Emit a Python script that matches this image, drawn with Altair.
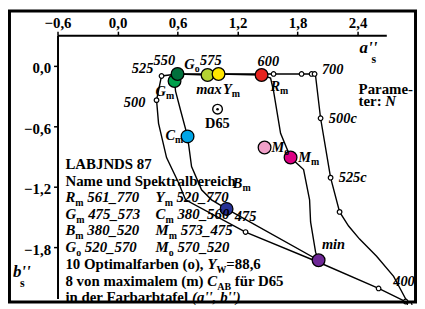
import altair as alt
import pandas as pd

# ---------------- data ----------------
# optimal colour loop (o), closed
opt_a = [2.90, 2.61, 2.01, 1.28, 0.68, 0.61, 0.49, 0.41, 0.39, 0.44, 0.60, 0.99, 1.44,
         1.56, 1.84, 1.96, 1.98, 2.03, 2.13, 2.22, 2.31, 2.42, 2.59, 2.76, 2.90]
opt_b = [-2.35, -2.21, -1.95, -1.65, -1.33, -1.16, -0.91, -0.57, -0.34, -0.10, -0.08, -0.08, -0.08,
         -0.08, -0.08, -0.08, -0.10, -0.52, -1.11, -1.45, -1.59, -1.72, -1.89, -2.09, -2.35]
# maximal chroma loop (m), closed
max_a = [0.57, 0.60, 0.90, 1.01, 1.44, 1.53, 1.56, 1.63, 1.73, 1.86, 1.92, 1.93, 1.98, 2.01,
         1.09, 0.94, 0.84, 0.74, 0.70, 0.63, 0.58, 0.57]
max_b = [-0.15, -0.08, -0.09, -0.08, -0.09, -0.12, -0.25, -0.67, -0.91, -1.03, -1.33, -1.55, -1.85, -1.93,
         -1.42, -1.33, -1.23, -1.00, -0.70, -0.44, -0.25, -0.15]
# open circles of optimal colours
oc_a = [2.88, 2.92, 2.61, 1.28, 0.39, 0.44, 1.56, 1.84, 1.94, 1.97, 2.03, 2.13, 2.22]
oc_b = [-2.34, -2.37, -2.21, -1.65, -0.34, -0.10, -0.08, -0.08, -0.08, -0.08, -0.52, -1.11, -1.45]
# coloured circles
col_names = ["Gm", "Go", "max", "Ym", "Rm", "Cm", "Mo", "Mm", "Bm", "min"]
col_a = [0.57, 0.60, 0.90, 1.01, 1.44, 0.70, 1.47, 1.73, 1.09, 2.01]
col_b = [-0.15, -0.08, -0.09, -0.08, -0.09, -0.70, -0.81, -0.91, -1.42, -1.93]
col_hex = ["#00a04b", "#00703c", "#b4d232", "#ffe600", "#e6231e",
           "#00a5e6", "#f0a0c8", "#dc0082", "#283296", "#6e2896"]
d65_a = [1.00]
d65_b = [-0.43]
x_ticks = [-0.6, 0.0, 0.6, 1.2, 1.8, 2.4]
y_ticks = [0.0, -0.6, -1.2, -1.8]

# ---------------- layout ----------------
W, H = 332, 266
PX0, PY0 = 58, 34          # page position of plot origin
FONT = "Liberation Serif"

xs = alt.Scale(domain=[-0.6, 2.687], nice=False, zero=False)
ys = alt.Scale(domain=[-2.311, 0.305], nice=False, zero=False)
lab = 'replace(format(datum.value, ".1f"), ".", ",")'
X = alt.X("a:Q", scale=xs, title=None,
          axis=alt.Axis(orient="top", values=x_ticks, labelExpr=lab, labelPadding=1,
                        labelFlush=False, labelOverlap=False))
Y = alt.Y("b:Q", scale=ys, title=None,
          axis=alt.Axis(orient="left", values=y_ticks, labelExpr=lab, labelPadding=3,
                        labelOffset=2, labelOverlap=False))

# Times (Liberation Serif) widths /1000
BW = {' ': 250, '(': 333, ')': 333, ',': 250, ':': 333, '=': 570, '_': 500, "'": 278,
      'A': 722, 'B': 667, 'C': 722, 'D': 722, 'F': 611, 'G': 778, 'J': 500, 'L': 667, 'M': 944,
      'N': 722, 'O': 778, 'R': 722, 'S': 556, 'W': 1000, 'Y': 722,
      'a': 500, 'b': 556, 'c': 444, 'd': 556, 'e': 444, 'f': 333, 'h': 556, 'i': 278, 'k': 556,
      'l': 278, 'm': 833, 'n': 556, 'o': 500, 'p': 556, 'r': 444, 't': 333, 'u': 556, 'v': 500,
      'x': 500, 'ü': 556}
BIW = {' ': 250, 'B': 667, 'C': 667, 'G': 722, 'M': 889, 'R': 667, 'Y': 611, 'N': 722}


def tw(s, table, size):
    return sum(table.get(c, 500) for c in s) * size / 1000.0


segs = []  # page_x, page_y, text, style
SIZES = {"blk": 15, "blki": 15, "sub": 10, "lbl": 14.5, "lblb": 14.5, "ax": 17, "axs": 12}


def add(x, y, t, st):
    # SVG drops leading blanks: move the start instead
    n = len(t) - len(t.lstrip(" "))
    x += n * 0.25 * SIZES[st]
    segs.append((x, y, t.strip(" "), st))


# ---- text block ----
BL = [169, 186, 202.5, 219.5, 236, 252.5, 270, 287, 303]
TX = 66
FS = 15
SUB = 10
add(TX, BL[0], "LABJNDS 87", "blk")
add(TX, BL[1], "Name und Spektralbereich", "blk")
rows = [(("R", "m", " 561_770"), ("Y", "m", " 520_770")),
        (("G", "m", " 475_573"), ("C", "m", " 380_560")),
        (("B", "m", " 380_520"), ("M", "m", " 573_475")),
        (("G", "o", " 520_570"), ("M", "o", " 570_520"))]
for i, row in enumerate(rows):
    y = BL[2 + i]
    for x0, (L, s, rest) in zip([TX, 157], row):
        x1 = x0 + tw(L, BIW, FS)
        add(x0, y, L, "blki")
        add(x1, y + 4, s, "sub")
        add(x1 + tw(s, BW, SUB), y, rest, "blki")
t1 = "10 Optimalfarben (o), "
x = TX + tw(t1, BW, FS)
add(TX, BL[6], t1, "blk")
add(x, BL[6], "Y", "blki")
x += tw("Y", BIW, FS)
add(x, BL[6] + 4, "W", "sub")
x += tw("W", BW, SUB)
add(x, BL[6], "=88,6", "blk")
t2 = "8 von maximalem (m) "
x = TX + tw(t2, BW, FS)
add(TX, BL[7], t2, "blk")
add(x, BL[7], "C", "blki")
x += tw("C", BIW, FS)
add(x, BL[7] + 4, "AB", "sub")
x += tw("AB", BW, SUB)
add(x, BL[7], " für D65", "blk")
t3 = "in der Farbarbtafel "
add(TX, BL[8], t3, "blk")
add(TX + tw(t3, BW, FS), BL[8], "(a'', b'')", "blki")

# ---- point labels ----
LS = 14.5
for (xx, yy, t) in [(133, 72, "525"), (155, 64, "550"), (202, 64, "575"), (260, 65, "600"),
                    (325, 73, "700"), (198, 93, "max"), (125, 107, "500"), (332, 123, "500c"),
                    (342, 182, "525c"), (237, 222, "475"), (325, 250, "min"), (397, 287, "400")]:
    add(xx, yy, t, "lbl")
for (xx, yy, L, s) in [(186, 68, "G", "o"), (225, 93, "Y", "m"), (273, 90, "R", "m"),
                       (157, 95, "G", "m"), (167, 140, "C", "m"), (274, 152, "M", "o"),
                       (301, 162, "M", "m"), (235, 188, "B", "m")]:
    add(xx, yy, L, "lbl")
    add(xx + tw(L, BIW, LS), yy + 3, s, "sub")
add(207, 128, "D65", "lblb")
add(362, 93, "Parame-", "blk")
add(362, 106, "ter: ", "blk")
add(362 + tw("ter: ", BW, FS), 106, "N", "blki")
add(363, 52, "a''", "ax")
add(375, 62, "s", "axs")
add(13, 278, "b''", "ax")
add(20, 288, "s", "axs")

styles = {
    "blk": dict(fontSize=15, fontWeight="bold"),
    "blki": dict(fontSize=15, fontWeight="bold", fontStyle="italic"),
    "sub": dict(fontSize=10, fontWeight="bold"),
    "lbl": dict(fontSize=14.5, fontWeight="bold", fontStyle="italic"),
    "lblb": dict(fontSize=14.5, fontWeight="bold"),
    "ax": dict(fontSize=17, fontWeight="bold", fontStyle="italic"),
    "axs": dict(fontSize=12, fontWeight="bold"),
}

# ---------------- tables ----------------
lines_df = pd.concat([
    pd.DataFrame({"a": opt_a, "b": opt_b, "s": "o", "k": range(len(opt_a))}),
    pd.DataFrame({"a": max_a, "b": max_b, "s": "m", "k": range(len(max_a))}),
])
oc_df = pd.DataFrame({"a": oc_a, "b": oc_b})
col_df = pd.DataFrame({"a": col_a, "b": col_b, "n": col_names, "c": col_hex})
d65_df = pd.DataFrame({"a": d65_a, "b": d65_b})
seg_df = pd.DataFrame(segs, columns=["px", "py", "t", "st"])
seg_df["px"] = seg_df["px"] - PX0
seg_df["py"] = seg_df["py"] - PY0

# ---------------- layers ----------------
frame = alt.Chart(pd.DataFrame({"z": [0]})).mark_rect(
    fillOpacity=0, stroke="black", strokeWidth=3
).encode(x=alt.value(-48.5), x2=alt.value(361.5), y=alt.value(-24.5), y2=alt.value(269.5))

lines = alt.Chart(lines_df).mark_line(color="black", strokeWidth=1.4, clip=False).encode(
    x=X, y=Y, detail="s:N", order="k:Q")

ocirc = alt.Chart(oc_df).mark_point(
    shape="circle", filled=True, fill="white", stroke="black", strokeWidth=1.2,
    size=22, opacity=1).encode(x=X, y=Y)

ccirc = alt.Chart(col_df).mark_circle(
    stroke="black", strokeWidth=1.3, size=165, opacity=1).encode(
    x=X, y=Y, fill=alt.Fill("c:N", scale=None))

d65 = alt.Chart(d65_df).mark_point(
    shape="circle", filled=True, fill="white", stroke="black", strokeWidth=1.4,
    size=95, opacity=1).encode(x=X, y=Y)
d65dot = alt.Chart(d65_df).mark_circle(color="black", size=7, opacity=1).encode(x=X, y=Y)

texts = []
for st, kw in styles.items():
    texts.append(
        alt.Chart(seg_df[seg_df["st"] == st]).mark_text(
            align="left", baseline="alphabetic", font=FONT, color="black", **kw
        ).encode(
            x=alt.X("px:Q", scale=None, axis=None),
            y=alt.Y("py:Q", scale=None, axis=None),
            text="t:N")
    )

chart = alt.layer(lines, ocirc, ccirc, d65, d65dot, *texts, frame).properties(
    width=W, height=H,
    padding={"left": 50, "top": 26, "right": 31, "bottom": 5},
    autosize=alt.AutoSizeParams(type="none"),
    background="white",
).configure_view(strokeWidth=0).configure_axis(
    domainColor="black", domainWidth=2, tickColor="black", tickWidth=1.5, tickSize=4,
    labelFont=FONT, labelFontSize=15, labelFontWeight="bold", labelColor="black", grid=False,
)

chart.save("out.html", embed_options={"renderer": "svg", "actions": False})
